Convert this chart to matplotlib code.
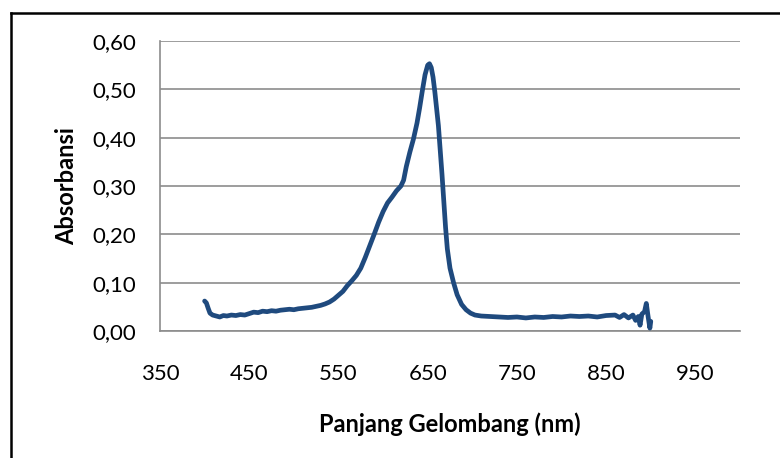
import matplotlib
matplotlib.use("Agg")
import matplotlib.pyplot as plt
from matplotlib.lines import Line2D

wavelength = [400, 402, 404, 406, 409, 413, 417, 421, 425, 430, 435, 440, 445, 450,
              455, 460, 465, 470, 475, 480, 485, 490, 495, 500, 505, 510, 515, 520,
              525, 530, 535, 540, 545, 550, 555, 560, 565, 570, 575, 580, 585, 590,
              595, 600, 605, 610, 615, 620, 623, 626, 630, 634, 638, 641, 644, 647,
              650, 652, 654, 656, 658, 660, 662, 664, 666, 668, 670, 672, 675, 679,
              683, 688, 693, 698, 703, 710, 720, 730, 740, 750, 760, 770, 780, 790,
              800, 810, 820, 830, 840, 850, 860, 865, 870, 875, 880, 883, 886, 888,
              890, 893, 895, 897, 899, 900]
absorbance = [0.062, 0.058, 0.047, 0.037, 0.033, 0.031, 0.029, 0.032, 0.031, 0.033,
              0.032, 0.034, 0.033, 0.036, 0.039, 0.038, 0.041, 0.040, 0.042, 0.041,
              0.043, 0.044, 0.045, 0.044, 0.046, 0.047, 0.048, 0.049, 0.051, 0.053,
              0.056, 0.060, 0.066, 0.074, 0.082, 0.094, 0.104, 0.115, 0.130, 0.152,
              0.176, 0.200, 0.225, 0.247, 0.265, 0.277, 0.290, 0.300, 0.312, 0.340,
              0.370, 0.397, 0.430, 0.462, 0.497, 0.530, 0.550, 0.553, 0.545, 0.525,
              0.495, 0.460, 0.425, 0.375, 0.325, 0.270, 0.215, 0.170, 0.130, 0.100,
              0.075, 0.055, 0.044, 0.037, 0.033, 0.031, 0.030, 0.029, 0.028, 0.029,
              0.027, 0.029, 0.028, 0.030, 0.029, 0.031, 0.030, 0.031, 0.029, 0.032,
              0.033, 0.028, 0.034, 0.027, 0.033, 0.022, 0.030, 0.012, 0.035, 0.040,
              0.057, 0.030, 0.006, 0.020]

x_ticks = [350, 450, 550, 650, 750, 850, 950]
y_ticks = [0.0, 0.1, 0.2, 0.3, 0.4, 0.5, 0.6]
y_tick_labels = ["0,00", "0,10", "0,20", "0,30", "0,40", "0,50", "0,60"]

plt.rcParams['font.family'] = ['Lato', 'DejaVu Sans']

fig = plt.figure(figsize=(7.8, 4.58), dpi=100)
ax = fig.add_axes([160/780, 1-331/458, 580/780, 290/458])

ax.plot(wavelength, absorbance, color='#1f4a7e', lw=3.4, solid_capstyle='round',
        solid_joinstyle='round', zorder=3)

ax.set_xlim(350, 1000)
ax.set_ylim(0, 0.6)
ax.set_xticks(x_ticks)
ax.set_yticks(y_ticks)
ax.set_yticklabels(y_tick_labels)
ax.tick_params(axis='both', length=0, labelsize=16, colors='black')
ax.tick_params(axis='y', pad=17)
ax.tick_params(axis='x', pad=24)
ax.yaxis.grid(True, color='#8c8c8c', lw=1.2)
ax.set_axisbelow(True)
for s in ['top', 'right']:
    ax.spines[s].set_visible(False)
for s in ['left', 'bottom']:
    ax.spines[s].set_color('#8c8c8c')
    ax.spines[s].set_linewidth(1.2)

ax.set_xlabel("Panjang Gelombang (nm)", fontsize=17, fontweight='bold', labelpad=20)
ax.set_ylabel("Absorbansi", fontsize=17, fontweight='bold', labelpad=10)

# outer chart frame
fig.add_artist(Line2D([11/780, 11/780], [0, 1-13/458], color='black', lw=1.8,
                      transform=fig.transFigure))
fig.add_artist(Line2D([11/780, 1], [1-13/458, 1-13/458], color='black', lw=1.8,
                      transform=fig.transFigure))

fig.savefig("out.png", dpi=100)
